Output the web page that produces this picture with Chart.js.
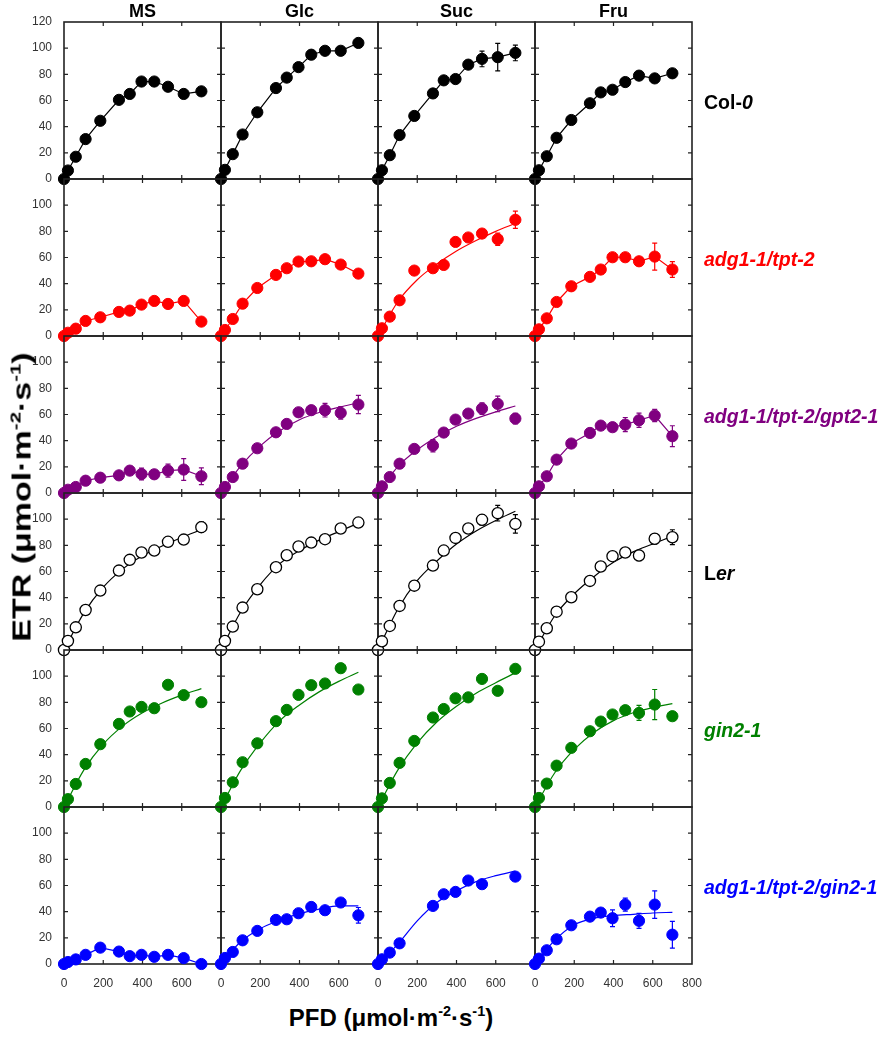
<!DOCTYPE html>
<html><head><meta charset="utf-8">
<script src="https://cdn.jsdelivr.net/npm/chart.js@4.4.1/dist/chart.umd.min.js"></script>
<style>
body{margin:0;background:#fff;width:886px;height:1038px;position:relative;overflow:hidden;font-family:'Liberation Sans',Arial,sans-serif;}
canvas{position:absolute;}
.t{position:absolute;font-weight:bold;white-space:nowrap;line-height:1;}
.sup{font-size:0.6em;position:relative;top:-0.7em;}
</style></head><body>
<script>
// ---- data ----
const pfd = [0,20,60,110,185,280,335,395,460,530,610,700];
const fitPfd = [0,100,200,300,400,500,600,700];
const media = ['MS','Glc','Suc','Fru'];
const genotypeLabels = ['Col-<i>0</i>','<i>adg1-1/tpt-2</i>','<i>adg1-1/tpt-2/gpt2-1</i>','L<i>er</i>','<i>gin2-1</i>','<i>adg1-1/tpt-2/gin2-1</i>'];
const genotypeColors = ['#000000','#ff0000','#800080','#000000','#008000','#0000ff'];
const xTickInner = [0,200,400,600];
const xTickLast = [0,200,400,600,800];
const yTickRow = [0,20,40,60,80,100];
const yTickTop = [0,20,40,60,80,100,120];
const xMinor = [200,400,600];
const yMinor = [20,40,60,80,100];

// Col-0
const col0_MS  = [0,6.5,17,30.5,44.5,60.5,65,74.5,74.5,70.5,65,67];
const col0_Glc = [0,7,19,34,51,69.5,77.5,85.5,95,98,98,104];
const col0_Suc = [0,6.7,18.2,33.6,48.2,65.4,75.4,76.4,87.4,91.8,93.1,96.4];
const col0_Suc_err = [0,0,0,0,0,0,0,0,3,6,10.5,6];
const col0_Fru = [0,6.7,17.4,31.5,45.1,57.9,66.2,68.2,74.1,79,76.9,80.8];
// adg1-1/tpt-2
const tpt_MS  = [0,2.5,5.6,11.5,14.3,18.4,19.4,24,26.8,24.5,26.8,11];
const tpt_Glc = [0,4.6,13,24.7,36.7,46.7,51.8,56.9,57.1,58.7,54.6,47.7];
const tpt_Suc = [0,5.9,14.8,27.3,50,51.8,54.3,71.9,75.3,78.3,74,88.8];
const tpt_Suc_err = [0,0,0,0,0,0,0,0,0,3,4.7,6.6];
const tpt_Suc_fit = [0,26,43,55,65,73,80,86];
const tpt_Fru = [0,5.1,13.5,26,38,45.2,50.8,60.2,60.2,57.1,60.7,50.8];
const tpt_Fru_err = [0,0,0,0,0,0,0,0,0,2,10.3,6];
// adg1-1/tpt-2/gpt2-1
const gpt_MS  = [0,2.5,4.6,9.4,11.7,13.5,17.1,14.5,14.3,17.1,17.9,12.8];
const gpt_MS_err = [0,0,0,0,0,2,3,4.5,3,5,8.3,6.4];
const gpt_Glc = [0,4.6,12.2,22.4,34.2,46.4,52.8,61.7,63.3,63.3,61.2,67.6];
const gpt_Glc_err = [0,0,0,0,0,0,0,0,3,5.2,4.8,7];
const gpt_Glc_fit = [0,20.5,36,47.5,56,61.5,65.5,69];
const gpt_Suc = [0,5.1,12.2,22.4,33.7,36.2,46.2,56.1,60.7,64.5,68.1,56.9];
const gpt_Suc_err = [0,0,0,0,0,4.7,0,0,3,4.5,6,4];
const gpt_Suc_fit = [0,20,33,43,51,57,62,66.5];
const gpt_Fru = [0,5.1,12.8,25.5,37.8,45.9,51.5,50.3,52.3,55.6,59.2,43.4];
const gpt_Fru_err = [0,0,0,0,0,2,0,2,5.4,5.5,4.7,8];
// Ler
const ler_MS  = [0,6.9,17.3,30.6,45.4,60.7,68.9,74.5,76,82.7,84.4,93.9];
const ler_MS_err = [0,0,0,0,0,0,0,0,0,0,0,4];
const ler_MS_fit = [0,28,48,62,72,79.5,86,92];
const ler_Glc = [0,6.9,17.9,32.4,46.4,63.3,72.4,79.1,82.1,84.7,92.9,97.4];
const ler_Glc_fit = [0,29,50,66,76,84,90.5,97];
const ler_Suc = [0,6.6,18.4,33.7,49.2,64.5,76,85.7,92.9,99.5,104.6,96.4];
const ler_Suc_err = [0,0,0,0,0,0,0,0,0,4,6,7];
const ler_Suc_fit = [0,31,53,68,81,91,99,106];
const ler_Fru = [0,6.4,16.6,29.3,40.3,52.8,63.8,71.7,74.5,72.2,85,86.2];
const ler_Fru_err = [0,0,0,0,0,0,0,0,0,4,4,5.7];
const ler_Fru_fit = [0,26,43,56,67,75,81,87];
// gin2-1
const gin_MS  = [0,6,17.6,32.9,48,63.5,73,76.5,75.5,93.4,85.5,80.1];
const gin_MS_fit = [0,28,48,62,72,79.5,85.5,90.5];
const gin_Glc = [0,6.9,18.9,34.2,48.7,65.6,74.2,85.7,93.1,94.4,106.1,89.8];
const gin_Glc_fit = [0,28,49,66,78,88,96,103];
const gin_Suc = [0,6.6,18.4,33.7,50.5,68.4,74.9,83.1,83.8,97.9,88.8,105.6];
const gin_Suc_err = [0,0,0,0,0,0,0,0,0,0,0,3];
const gin_Suc_fit = [0,28,49,65,77,87,95,102.5];
const gin_Fru = [0,6.9,17.9,31.6,45.2,57.9,65.3,70.7,74,71.9,78.3,69.4];
const gin_Fru_err = [0,0,0,0,0,0,3,3,0,5.7,11.5,0];
const gin_Fru_fit = [0,26,44,57,66,72,76,79];
// adg1-1/tpt-2/gin2-1
const tg_MS  = [0,1.5,3.5,7,12.5,9.5,6,7,5.5,7,4.5,0];
const tg_Glc = [0,4.6,9.2,18.1,25.3,33.7,34.2,38.8,43.6,41.1,47,37.2];
const tg_Glc_err = [0,0,0,0,0,0,0,0,0,0,3,6];
const tg_Glc_fit = [0,17,27,33.5,38.5,42,44.5,44.5];
const tg_Suc = [0,3.6,8.7,15.8,null,44.4,53.3,55.1,63.8,61,null,66.8];
const tg_Suc_fit = [0,15,33,47,56,63,67.5,71];
const tg_Fru = [0,4.1,10.5,18.9,29.6,36.2,39.3,35,45.4,33,45.4,22.4];
const tg_Fru_err = [0,0,0,0,0,0,0,6.4,5,5.7,10.5,10.2];
const tg_Fru_fit = [0,18,30,35,37,38,39,39.5];

const panels = [
  [[col0_MS],[col0_Glc],[col0_Suc,col0_Suc_err],[col0_Fru]],
  [[tpt_MS],[tpt_Glc],[tpt_Suc,tpt_Suc_err,tpt_Suc_fit],[tpt_Fru,tpt_Fru_err]],
  [[gpt_MS,gpt_MS_err],[gpt_Glc,gpt_Glc_err,gpt_Glc_fit],[gpt_Suc,gpt_Suc_err,gpt_Suc_fit],[gpt_Fru,gpt_Fru_err]],
  [[ler_MS,ler_MS_err,ler_MS_fit],[ler_Glc,null,ler_Glc_fit],[ler_Suc,ler_Suc_err,ler_Suc_fit],[ler_Fru,ler_Fru_err,ler_Fru_fit]],
  [[gin_MS,null,gin_MS_fit],[gin_Glc,null,gin_Glc_fit],[gin_Suc,gin_Suc_err,gin_Suc_fit],[gin_Fru,gin_Fru_err,gin_Fru_fit]],
  [[tg_MS],[tg_Glc,tg_Glc_err,tg_Glc_fit],[tg_Suc,null,tg_Suc_fit],[tg_Fru,tg_Fru_err,tg_Fru_fit]]
];

// ---- layout ----
const PW = 157, PH = 157, L0 = 64, T0 = 22;
const PADL = 46, PADT = 18, PADR = 20, PADB = 24;
Chart.defaults.font.family = "'Liberation Sans', Arial, sans-serif";
Chart.defaults.animation = false;

const framePlugin = {
  id: 'frame',
  beforeDatasetsDraw(chart) {
    const {ctx, chartArea: a, scales: {x, y}} = chart;
    ctx.save();
    ctx.strokeStyle = '#222';
    ctx.lineWidth = 1.6;
    ctx.strokeRect(a.left, a.top, a.right - a.left, a.bottom - a.top);
    ctx.lineWidth = 1.2;
    ctx.beginPath();
    xMinor.forEach(v => {
      const px = x.getPixelForValue(v);
      ctx.moveTo(px, a.bottom); ctx.lineTo(px, a.bottom - 4);
      ctx.moveTo(px, a.top); ctx.lineTo(px, a.top + 4);
    });
    yMinor.forEach(v => {
      const py = y.getPixelForValue(v);
      ctx.moveTo(a.left, py); ctx.lineTo(a.left + 4, py);
      ctx.moveTo(a.right, py); ctx.lineTo(a.right - 4, py);
    });
    ctx.stroke();
    chart.data.datasets.forEach(ds => {
      if (!ds.hasErr) return;
      ctx.strokeStyle = ds.pointBorderColor;
      ctx.lineWidth = 1.2;
      ctx.beginPath();
      ds.data.forEach(p => {
        if (!p.e) return;
        const px = x.getPixelForValue(p.x);
        const y1 = y.getPixelForValue(p.y + p.e), y2 = y.getPixelForValue(p.y - p.e);
        ctx.moveTo(px, y1); ctx.lineTo(px, y2);
        ctx.moveTo(px - 2.5, y1); ctx.lineTo(px + 2.5, y1);
        ctx.moveTo(px - 2.5, y2); ctx.lineTo(px + 2.5, y2);
      });
      ctx.stroke();
    });
    ctx.restore();
  }
};

for (let r = 0; r < 6; r++) {
  for (let c = 0; c < 4; c++) {
    const [etr, err, fit] = panels[r][c];
    const col = genotypeColors[r];
    const open = (r === 3);
    const cv = document.createElement('canvas');
    const w = PW + PADL + PADR, h = PH + PADT + PADB;
    cv.width = w; cv.height = h;
    cv.style.width = w + 'px'; cv.style.height = h + 'px';
    cv.style.left = (L0 + c * PW - PADL) + 'px';
    cv.style.top = (T0 + r * PH - PADT) + 'px';
    document.body.appendChild(cv);

    const pts = [];
    pfd.forEach((x, i) => { if (etr[i] !== null) pts.push({x: x, y: etr[i], e: err ? err[i] : 0}); });
    const datasets = [{
      type: 'scatter', data: pts, showLine: !fit, hasErr: !!err,
      borderColor: col, borderWidth: 1.2,
      pointBackgroundColor: open ? '#ffffff' : col, pointBorderColor: col,
      pointBorderWidth: open ? 1.3 : 1, pointRadius: 5.6, pointHoverRadius: 5.6,
      clip: false, order: 0
    }];
    if (fit) datasets.push({
      type: 'line', data: fitPfd.map((x, i) => ({x: x, y: fit[i]})),
      borderColor: col, borderWidth: 1.2, pointRadius: 0, fill: false,
      cubicInterpolationMode: 'monotone', clip: false, order: 1
    });

    new Chart(cv, {
      type: 'scatter',
      data: {datasets},
      options: {
        responsive: false, animation: false, devicePixelRatio: 1,
        layout: {padding: {left: 0, top: PADT, right: PADR, bottom: 0}},
        plugins: {legend: {display: false}, tooltip: {enabled: false}},
        scales: {
          x: {
            type: 'linear', min: 0, max: 800, position: 'bottom',
            grid: {display: false}, border: {display: false},
            afterBuildTicks: s => { s.ticks = (c === 3 ? xTickLast : xTickInner).map(v => ({value: v})); },
            ticks: {display: r === 5, padding: 4, autoSkip: false, maxRotation: 0, color: '#333', font: {size: 12}},
            afterFit: s => { s.height = PADB; }
          },
          y: {
            type: 'linear', min: 0, max: 120,
            grid: {display: false}, border: {display: false},
            afterBuildTicks: s => { s.ticks = (r === 0 ? yTickTop : yTickRow).map(v => ({value: v})); },
            ticks: {display: c === 0, padding: 4, autoSkip: false, color: '#333', font: {size: 12}},
            afterFit: s => { s.width = PADL; }
          }
        }
      },
      plugins: [framePlugin]
    });
  }
}

// ---- text ----
function addText(html, css) {
  const d = document.createElement('div');
  d.className = 't';
  d.innerHTML = html;
  Object.assign(d.style, css);
  document.body.appendChild(d);
  return d;
}
media.forEach((m, c) => {
  addText(m, {left: (L0 + c * PW + PW / 2) + 'px', top: '11px', fontSize: '18px', color: '#000', transform: 'translate(-50%,-50%)'});
});
genotypeLabels.forEach((g, r) => {
  addText(g, {left: '704px', top: (T0 + r * PH + PH / 2 + 2) + 'px', fontSize: '19.5px', color: genotypeColors[r], transform: 'translateY(-50%)'});
});
addText('ETR (μmol·m<span class="sup">-2</span>·s<span class="sup">-1</span>)',
  {left: '22px', top: '497px', fontSize: '25px', color: '#000', transform: 'translate(-50%,-50%) rotate(-90deg) scaleX(1.36)'});
addText('PFD (μmol·m<span class="sup">-2</span>·s<span class="sup">-1</span>)',
  {left: '391px', top: '1018px', fontSize: '24px', color: '#000', transform: 'translate(-50%,-50%)'});
</script>
</body></html>
